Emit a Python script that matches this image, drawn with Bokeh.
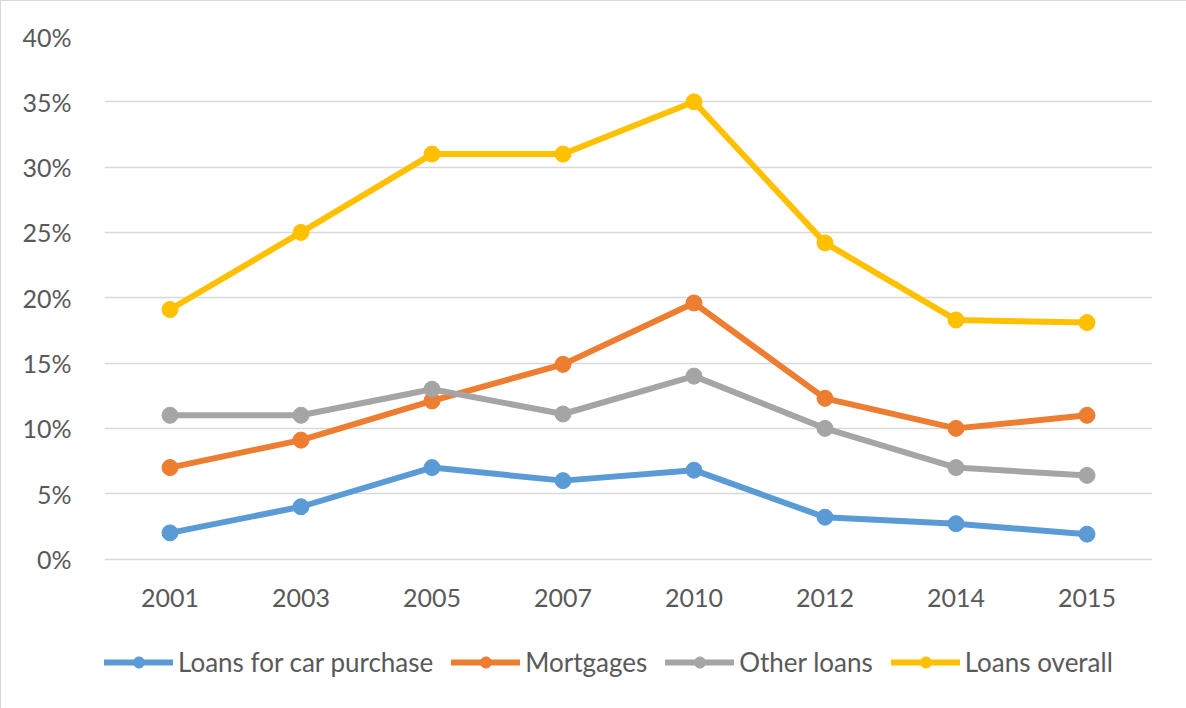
from bokeh.plotting import figure
from bokeh.models import Legend, LegendItem, NumeralTickFormatter, FixedTicker
from bokeh.embed import file_html
from bokeh.resources import INLINE

years = ["2001", "2003", "2005", "2007", "2010", "2012", "2014", "2015"]
car_loans = [0.020, 0.040, 0.070, 0.060, 0.068, 0.032, 0.027, 0.019]
mortgages = [0.070, 0.091, 0.121, 0.149, 0.196, 0.123, 0.100, 0.110]
other_loans = [0.110, 0.110, 0.130, 0.111, 0.140, 0.100, 0.070, 0.064]
loans_overall = [0.191, 0.250, 0.310, 0.310, 0.350, 0.242, 0.183, 0.181]

series_names = ["Loans for car purchase", "Mortgages", "Other loans", "Loans overall"]
series_values = [car_loans, mortgages, other_loans, loans_overall]
colors = ["#5B9BD5", "#ED7D31", "#A5A5A5", "#FFC000"]
y_ticks = [0.0, 0.05, 0.10, 0.15, 0.20, 0.25, 0.30, 0.35, 0.40]

FONT = "Lato"
TXT = "#595959"

# layout: plot area spans 40% .. 0% over 522.5 px; frame extends down to hold the legend
FRAME_H = 672
PX_PER_UNIT = 522.5 / 0.40
y_start = 0.40 - FRAME_H / PX_PER_UNIT

p = figure(x_range=years, y_range=(y_start, 0.40),
           frame_width=1048, frame_height=FRAME_H,
           min_border_left=103, min_border_right=34, min_border_top=35, min_border_bottom=0,
           output_backend="svg", toolbar_location=None, tools="")
p.styles = {"border": "1px solid #d9d9d9"}

p.outline_line_color = None
p.background_fill_color = "white"
p.border_fill_color = "white"

p.xgrid.grid_line_color = None
p.ygrid.grid_line_color = "#d9d9d9"
p.ygrid.grid_line_width = 1.5

p.yaxis.ticker = FixedTicker(ticks=y_ticks)
p.yaxis.formatter = NumeralTickFormatter(format="0%")
p.xaxis.fixed_location = 0
for ax in (p.xaxis[0], p.yaxis[0]):
    ax.axis_line_color = None
    ax.major_tick_line_color = None
    ax.minor_tick_line_color = None
    ax.major_label_text_font = FONT
    ax.major_label_text_font_size = "25px"
    ax.major_label_text_color = TXT
p.yaxis.major_label_standoff = 27
p.xaxis.major_label_standoff = 24

items = []
for name, vals, c in zip(series_names, series_values, colors):
    r1 = p.line(years, vals, line_color=c, line_width=6, line_join="round", line_cap="round")
    r2 = p.scatter(years, vals, size=16, fill_color=c, line_color=c, marker="circle")
    items.append(LegendItem(label=name, renderers=[r1, r2]))

legend = Legend(items=items, orientation="horizontal", location=(0, 30),
                glyph_width=69, glyph_height=28, label_standoff=5, spacing=18,
                padding=0, margin=0,
                label_text_font=FONT, label_text_font_size="26px", label_text_color=TXT,
                border_line_color=None, background_fill_alpha=0)
p.add_layout(legend, "center")

open("out.html", "w").write(file_html(p, INLINE))
